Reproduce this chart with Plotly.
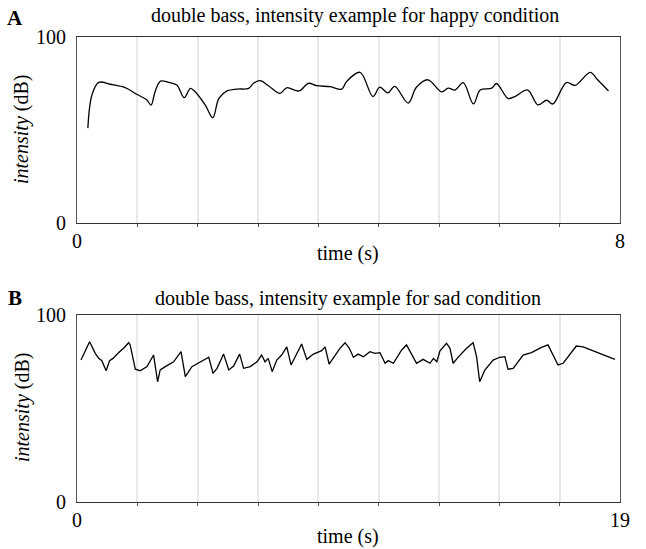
import plotly.graph_objects as go

# Panel A: happy condition (time in s, intensity in dB)
happy_t = [0.16, 0.22, 0.32, 0.49, 0.71, 0.88, 1.03, 1.09, 1.15, 1.23,
           1.35, 1.47, 1.58, 1.67, 1.74, 1.89, 2.00, 2.09, 2.21, 2.36,
           2.53, 2.60, 2.70, 2.82, 2.99, 3.09, 3.27, 3.41, 3.53, 3.73,
           3.90, 3.97, 4.17, 4.36, 4.46, 4.58, 4.68, 4.88, 5.00, 5.17,
           5.37, 5.47, 5.57, 5.69, 5.84, 5.94, 6.11, 6.18, 6.35, 6.45,
           6.64, 6.79, 6.92, 7.01, 7.21, 7.34, 7.56, 7.67, 7.83]
happy_db = [51, 68.8, 75.6, 74.6, 72.8, 69.2, 66.1, 63.4, 70.6, 76.3,
            75.6, 74.2, 67.4, 72.4, 70.6, 63.4, 56.6, 67, 71, 72,
            72.4, 75.1, 76.5, 73.8, 69.7, 72.7, 71, 75.1, 73.8, 73.3,
            72, 76, 81, 68, 73, 70, 73.5, 64.5, 73, 77,
            70.5, 72.5, 71.5, 75.5, 64, 71.5, 72.5, 75, 67, 68,
            71.5, 63.5, 66, 64, 75.5, 74, 81, 77, 71]

# Panel B: sad condition
sad_t = [0.14, 0.44, 0.64, 0.76, 0.87, 1.02, 1.14, 1.26, 1.46, 1.63,
         1.81, 1.86, 2.04, 2.21, 2.45, 2.68, 2.82, 2.91, 3.09, 3.38,
         3.64, 3.79, 4.02, 4.31, 4.61, 4.76, 4.90, 5.13, 5.31, 5.48,
         5.69, 5.83, 6.06, 6.30, 6.46, 6.58, 6.69, 6.83, 6.99, 7.16,
         7.34, 7.49, 7.69, 7.86, 8.04, 8.27, 8.56, 8.68, 8.82, 9.03,
         9.20, 9.38, 9.53, 9.67, 9.84, 10.02, 10.25, 10.43, 10.60, 10.78,
         10.89, 11.07, 11.36, 11.53, 11.71, 11.88, 12.11, 12.35, 12.47, 12.59,
         12.70, 12.93, 13.05, 13.16, 13.34, 13.63, 13.86, 13.98, 14.09, 14.27,
         14.56, 14.79, 14.97, 15.08, 15.26, 15.61, 15.90, 16.25, 16.48, 16.62,
         16.83, 17.01, 17.24, 17.47, 17.71, 18.23, 18.82]
sad_db = [75.9, 85.7, 79.5, 76.8, 75.6, 70.2, 75.6, 76.8, 79.9, 82.2,
          85.2, 84, 71, 70.2, 72.4, 78.6, 64.3, 70.6, 72.4, 75,
          80.4, 67, 72.4, 75, 77.4, 68.8, 71.5, 79.1, 70.6, 72.7,
          79.1, 71.5, 72.4, 75, 78.6, 75, 76.8, 69.7, 75.9, 78.6,
          83, 73.3, 79.5, 84.5, 76.3, 79.1, 80.9, 83, 73.8, 78.1,
          82.2, 85.2, 82.2, 77.4, 79.1, 77.7, 80.4, 79.5, 79.9, 74.2,
          75.6, 74.2, 81.3, 84, 78.6, 74.2, 76.3, 74.2, 76.8, 75,
          80.9, 84.9, 82.2, 74.2, 77.5, 82.2, 85.2, 77.7, 64.3, 70.6,
          75.9, 77.4, 77.7, 71, 71.5, 78.6, 79.9, 82.7, 84, 79.5,
          73.3, 74.2, 78.6, 83.4, 83, 79.9, 76.3]

happy_max = 8
sad_max = 19
n_div = 9
y_ticks = [0, 100]

FONT = "Liberation Serif"

fig = go.Figure()
fig.add_trace(go.Scatter(x=happy_t, y=happy_db, mode="lines",
                         line=dict(color="black", width=1.3, shape="spline", smoothing=1.0),
                         xaxis="x", yaxis="y", showlegend=False))
fig.add_trace(go.Scatter(x=sad_t, y=sad_db, mode="lines",
                         line=dict(color="black", width=1.3),
                         xaxis="x2", yaxis="y2", showlegend=False))

def xaxis_cfg(xmax, dom_anchor):
    return dict(
        domain=[0.1192, 0.9598], anchor=dom_anchor, range=[0, xmax], automargin=False,
        tickmode="array", tickvals=[0, xmax], ticktext=[str(0), str(xmax)],
        ticks="", showgrid=False, zeroline=False,
        showline=True, linecolor="#333333", linewidth=1.2, mirror=True,
        tickfont=dict(family=FONT, size=20, color="black"),
        minor=dict(tickmode="array",
                   tickvals=[xmax * i / n_div for i in range(1, n_div)],
                   ticks="outside", ticklen=3, tickcolor="#555555",
                   showgrid=True, gridcolor="#e8e8e8", gridwidth=1.5),
    )

def yaxis_cfg(dom, anchor):
    return dict(
        domain=dom, anchor=anchor, range=[0, 100], automargin=False,
        tickmode="array", tickvals=y_ticks, ticks="outside", ticklen=6,
        tickcolor="rgba(0,0,0,0)", showgrid=False, zeroline=False,
        showline=True, linecolor="#555555", linewidth=1.2, mirror=True,
        tickfont=dict(family=FONT, size=20, color="black"),
    )

fig.update_layout(
    width=646, height=549, margin=dict(l=0, r=0, t=0, b=0, autoexpand=False),
    paper_bgcolor="white", plot_bgcolor="white",
    xaxis=xaxis_cfg(happy_max, "y"),
    yaxis=yaxis_cfg([0.5938, 0.9326], "x"),
    xaxis2=xaxis_cfg(sad_max, "y2"),
    yaxis2=yaxis_cfg([0.0856, 0.4262], "x2"),
)

ann_font = dict(family=FONT, size=20, color="black")
lab_font = dict(family=FONT, size=20, color="black")
annotations = [
    dict(text="double bass, intensity example for happy condition", x=0.549, y=1 - 15 / 549,
         xref="paper", yref="paper", showarrow=False, font=ann_font, xanchor="center", yanchor="middle"),
    dict(text="double bass, intensity example for sad condition", x=0.539, y=1 - 298 / 549,
         xref="paper", yref="paper", showarrow=False, font=ann_font, xanchor="center", yanchor="middle"),
    dict(text="<b>A</b>", x=15 / 646, y=1 - 18 / 549, xref="paper", yref="paper",
         showarrow=False, font=dict(family=FONT, size=21, color="black"), xanchor="center", yanchor="middle"),
    dict(text="<b>B</b>", x=15 / 646, y=1 - 298 / 549, xref="paper", yref="paper",
         showarrow=False, font=dict(family=FONT, size=21, color="black"), xanchor="center", yanchor="middle"),
    dict(text="time (s)", x=0.5394, y=1 - 253 / 549, xref="paper", yref="paper",
         showarrow=False, font=lab_font, xanchor="center", yanchor="middle"),
    dict(text="time (s)", x=0.5394, y=1 - 536 / 549, xref="paper", yref="paper",
         showarrow=False, font=lab_font, xanchor="center", yanchor="middle"),
    dict(text="<i>intensity</i> (dB)", x=22 / 646, y=1 - 130 / 549, xref="paper", yref="paper",
         showarrow=False, font=lab_font, textangle=-90, xanchor="center", yanchor="middle"),
    dict(text="<i>intensity</i> (dB)", x=22 / 646, y=1 - 408 / 549, xref="paper", yref="paper",
         showarrow=False, font=lab_font, textangle=-90, xanchor="center", yanchor="middle"),
]
fig.update_layout(annotations=annotations)

fig.write_html("out.html")
